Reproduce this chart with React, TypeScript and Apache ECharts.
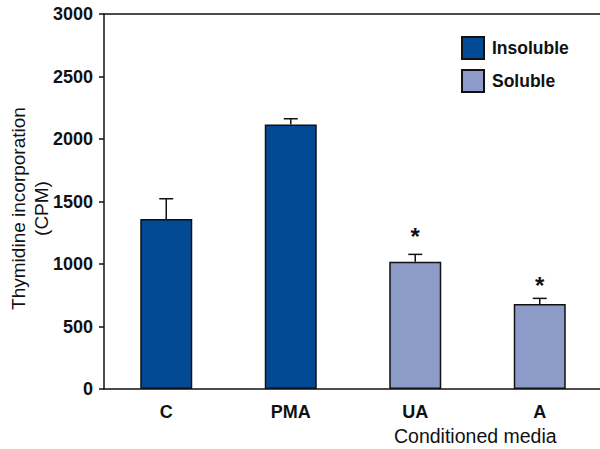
import React, { useEffect, useRef } from "react";
import * as echarts from "echarts";

const categories = ["C", "PMA", "UA", "A"];
const insoluble: (number | string)[] = [1360, 2117, "-", "-"];
const soluble: (number | string)[] = ["-", "-", 1018, 680];
const means = [1360, 2117, 1018, 680];
const errors = [162, 45, 59, 45];
const marks = ["", "", "*", "*"];
const markValues = [0, 0, 1250, 858];
const yTicks = { min: 0, max: 3000, interval: 500 };

const DARK = "#024B94";
const LIGHT = "#8D9BC9";
const FONT = "Liberation Sans, Arial, sans-serif";

export default function App() {
  const ref = useRef<HTMLDivElement>(null);
  useEffect(() => {
    if (!ref.current) return;
    const chart = echarts.init(ref.current, undefined, { renderer: "svg" });
    chart.setOption({
      animation: false,
      textStyle: { fontFamily: FONT, color: "#111" },
      grid: { left: 104, right: -2, top: 14, bottom: 60, containLabel: false, outerBoundsMode: "none" },
      legend: {
        orient: "vertical",
        left: 461,
        top: 36,
        padding: 0,
        itemWidth: 22,
        itemHeight: 22,
        itemGap: 9,
        icon: "rect",
        textStyle: { fontSize: 17.5, fontWeight: "bold", color: "#111", fontFamily: FONT, padding: [0, 0, 0, 3] },
        data: ["Insoluble", "Soluble"],
      },
      xAxis: [
        {
          type: "category",
          data: categories,
          axisLine: { lineStyle: { color: "#111", width: 1.5 } },
          axisTick: { show: false },
          axisLabel: { fontSize: 18, fontWeight: "bold", color: "#111", margin: 14, fontFamily: FONT },
        },
        {
          type: "category",
          position: "top",
          data: categories,
          axisLine: { show: true, lineStyle: { color: "#111", width: 1.5 } },
          axisTick: { show: false },
          axisLabel: { show: false },
        },
      ],
      yAxis: {
        type: "value",
        min: yTicks.min,
        max: yTicks.max,
        interval: yTicks.interval,
        name: "Thymidine incorporation\n(CPM)",
        nameLocation: "middle",
        nameGap: 51,
        nameMoveOverlap: false,
        nameTextStyle: { fontSize: 19, color: "#111", lineHeight: 23, fontFamily: FONT, padding: [0, 14, 0, 0] },
        axisLine: { show: true, lineStyle: { color: "#111", width: 1.5 } },
        axisTick: { show: true, length: 5, lineStyle: { color: "#111", width: 1.5 } },
        axisLabel: {
          fontSize: 18,
          fontWeight: "bold",
          color: "#111",
          margin: 11,
          fontFamily: FONT,
          formatter: (v: number) => String(v),
        },
        splitLine: { show: false },
      },
      graphic: [
        {
          type: "text",
          left: 394,
          top: 426,
          style: { text: "Conditioned media", fontSize: 19.5, fill: "#111", fontFamily: FONT },
        },
      ],
      series: [
        {
          name: "Insoluble",
          type: "bar",
          stack: "s",
          barWidth: 52,
          data: insoluble,
          itemStyle: { color: DARK, borderColor: "#111", borderWidth: 1.5 },
        },
        {
          name: "Soluble",
          type: "bar",
          stack: "s",
          barWidth: 52,
          data: soluble,
          itemStyle: { color: LIGHT, borderColor: "#111", borderWidth: 1.5 },
        },
        {
          type: "custom",
          silent: true,
          data: means.map((m, i) => [i, m, errors[i], markValues[i]]),
          renderItem: (params: any, api: any) => {
            const i = api.value(0);
            const m = api.value(1);
            const e = api.value(2);
            const mv = api.value(3);
            const base = api.coord([i, m]);
            const top = api.coord([i, m + e]);
            const children: any[] = [
              {
                type: "line",
                shape: { x1: base[0], y1: base[1], x2: top[0], y2: top[1] },
                style: { stroke: "#111", lineWidth: 1.5 },
              },
              {
                type: "line",
                shape: { x1: top[0] - 7, y1: top[1], x2: top[0] + 7, y2: top[1] },
                style: { stroke: "#111", lineWidth: 1.5 },
              },
            ];
            const mk = marks[params.dataIndex];
            if (mk) {
              const p = api.coord([i, mv]);
              children.push({
                type: "text",
                x: p[0],
                y: p[1] + 4,
                style: {
                  text: mk,
                  fontSize: 24,
                  fontWeight: "bold",
                  fill: "#111",
                  fontFamily: FONT,
                  align: "center",
                  verticalAlign: "middle",
                },
              });
            }
            return { type: "group", children };
          },
          z: 10,
        },
      ],
    });
    return () => chart.dispose();
  }, []);
  return <div ref={ref} style={{ width: 600, height: 449, position: "absolute", left: 0, top: 0 }} />;
}
